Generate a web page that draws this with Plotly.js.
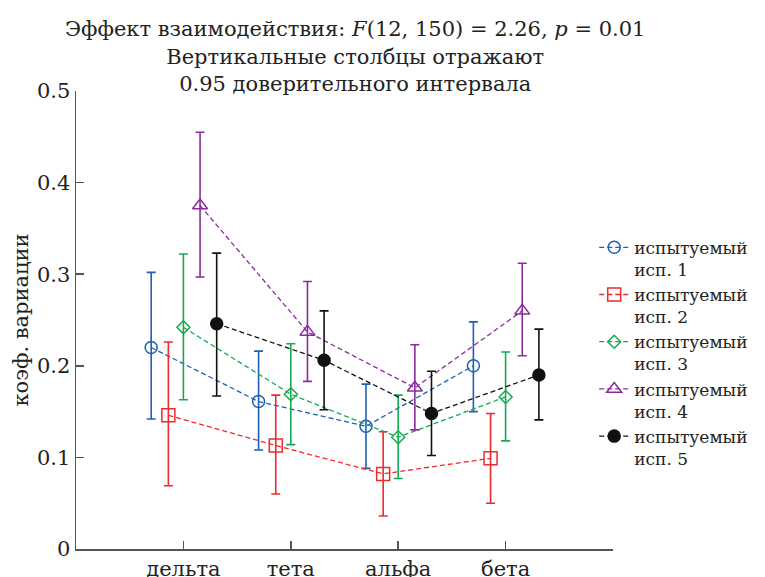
<!DOCTYPE html>
<html>
<head>
<meta charset="utf-8">
<script src="https://cdn.plot.ly/plotly-3.0.1.min.js"></script>
<style>html,body{margin:0;padding:0;background:#fff;}#chart{width:765px;height:577px;}</style>
</head>
<body>
<div id="chart"></div>
<script>
// ---- data ----
const categories = ['дельта', 'тета', 'альфа', 'бета'];
const seriesNames = ['испытуемый<br>исп. 1', 'испытуемый<br>исп. 2', 'испытуемый<br>исп. 3', 'испытуемый<br>исп. 4', 'испытуемый<br>исп. 5'];

const s1Mean = [0.220, 0.161, 0.134, 0.200];
const s1Low  = [0.142, 0.108, 0.088, 0.150];
const s1High = [0.302, 0.216, 0.180, 0.248];

const s2Mean = [0.146, 0.113, 0.082, 0.099];
const s2Low  = [0.069, 0.060, 0.036, 0.050];
const s2High = [0.226, 0.168, 0.128, 0.148];

const s3Mean = [0.242, 0.169, 0.122, 0.166];
const s3Low  = [0.163, 0.114, 0.077, 0.118];
const s3High = [0.322, 0.224, 0.168, 0.215];

const s4Mean = [0.375, 0.237, 0.176, 0.260];
const s4Low  = [0.297, 0.183, 0.130, 0.211];
const s4High = [0.455, 0.292, 0.223, 0.312];

const s5Mean = [0.246, 0.206, 0.148, 0.190];
const s5Low  = [0.167, 0.152, 0.102, 0.141];
const s5High = [0.323, 0.260, 0.194, 0.240];

// ---- styles ----
const dodge = [-0.3, -0.14, 0, 0.155, 0.31];
const colors = ['#1f5fb4', '#ec2a30', '#17a852', '#8a2c9e', '#111111'];
const symbols = ['circle-open', 'square-open', 'diamond-open', 'triangle-up-open', 'circle'];
const sizes = [12, 13, 10, 13, 12];

const means = [s1Mean, s2Mean, s3Mean, s4Mean, s5Mean];
const lows = [s1Low, s2Low, s3Low, s4Low, s5Low];
const highs = [s1High, s2High, s3High, s4High, s5High];

const traces = means.map((m, i) => ({
  type: 'scatter',
  mode: 'lines+markers',
  name: seriesNames[i],
  x: categories.map((c, j) => j + dodge[i]),
  y: m,
  line: {color: colors[i], width: 1.3, dash: '5px,3px'},
  marker: {symbol: symbols[i], size: sizes[i], color: colors[i], line: {color: colors[i], width: 1.5}},
  error_y: {
    type: 'data', symmetric: false,
    array: highs[i].map((h, j) => h - m[j]),
    arrayminus: m.map((v, j) => v - lows[i][j]),
    color: colors[i], thickness: 1.6, width: 4.5
  }
}));

const font = "'DejaVu Serif', serif";
const layout = {
  width: 765, height: 577,
  margin: {l: 76, r: 152, t: 91, b: 28},
  paper_bgcolor: '#fff', plot_bgcolor: '#fff',
  font: {family: font, color: '#222', size: 22},
  showlegend: true,
  title: {
    text: 'Эффект взаимодействия: <i>F</i>(12, 150) = 2.26, <i>p</i> = 0.01<br>Вертикальные столбцы отражают<br>0.95 доверительного интервала',
    font: {family: font, size: 21, color: '#222'},
    x: 0.52, xanchor: 'center', xref: 'paper',
    y: 0.937, yanchor: 'top', yref: 'container'
  },
  xaxis: {
    range: [-1, 4],
    tickmode: 'array', tickvals: [0, 1, 2, 3, 4], ticktext: categories.concat(['']),
    ticks: 'inside', ticklen: 8, tickwidth: 1.5, tickcolor: '#555',
    showline: true, linecolor: '#555', linewidth: 1.5,
    showgrid: false, zeroline: false,
    tickfont: {size: 21, family: font, color: '#222'}
  },
  yaxis: {
    range: [0, 0.5],
    tickvals: [0, 0.1, 0.2, 0.3, 0.4, 0.5], ticktext: ['0', '0.1', '0.2', '0.3', '0.4', '0.5'], tickmode: 'array',
    ticks: 'inside', ticklen: 8, tickwidth: 1.5, tickcolor: '#555',
    showline: true, linecolor: '#555', linewidth: 1.5,
    showgrid: false, zeroline: false,
    tickfont: {size: 21, family: font, color: '#222'},
    title: {text: 'коэф. вариации', font: {size: 21, family: font, color: '#222'}, standoff: 2}
  },
  legend: {
    x: 0.965, xanchor: 'left', y: 0.697, yanchor: 'top',
    font: {size: 17, family: font, color: '#222'},
    itemwidth: 30, tracegroupgap: 0, bgcolor: 'rgba(0,0,0,0)',
    valign: 'top', itemclick: false
  }
};

Plotly.newPlot('chart', traces, layout, {displayModeBar: false, staticPlot: true});
</script>
</body>
</html>
